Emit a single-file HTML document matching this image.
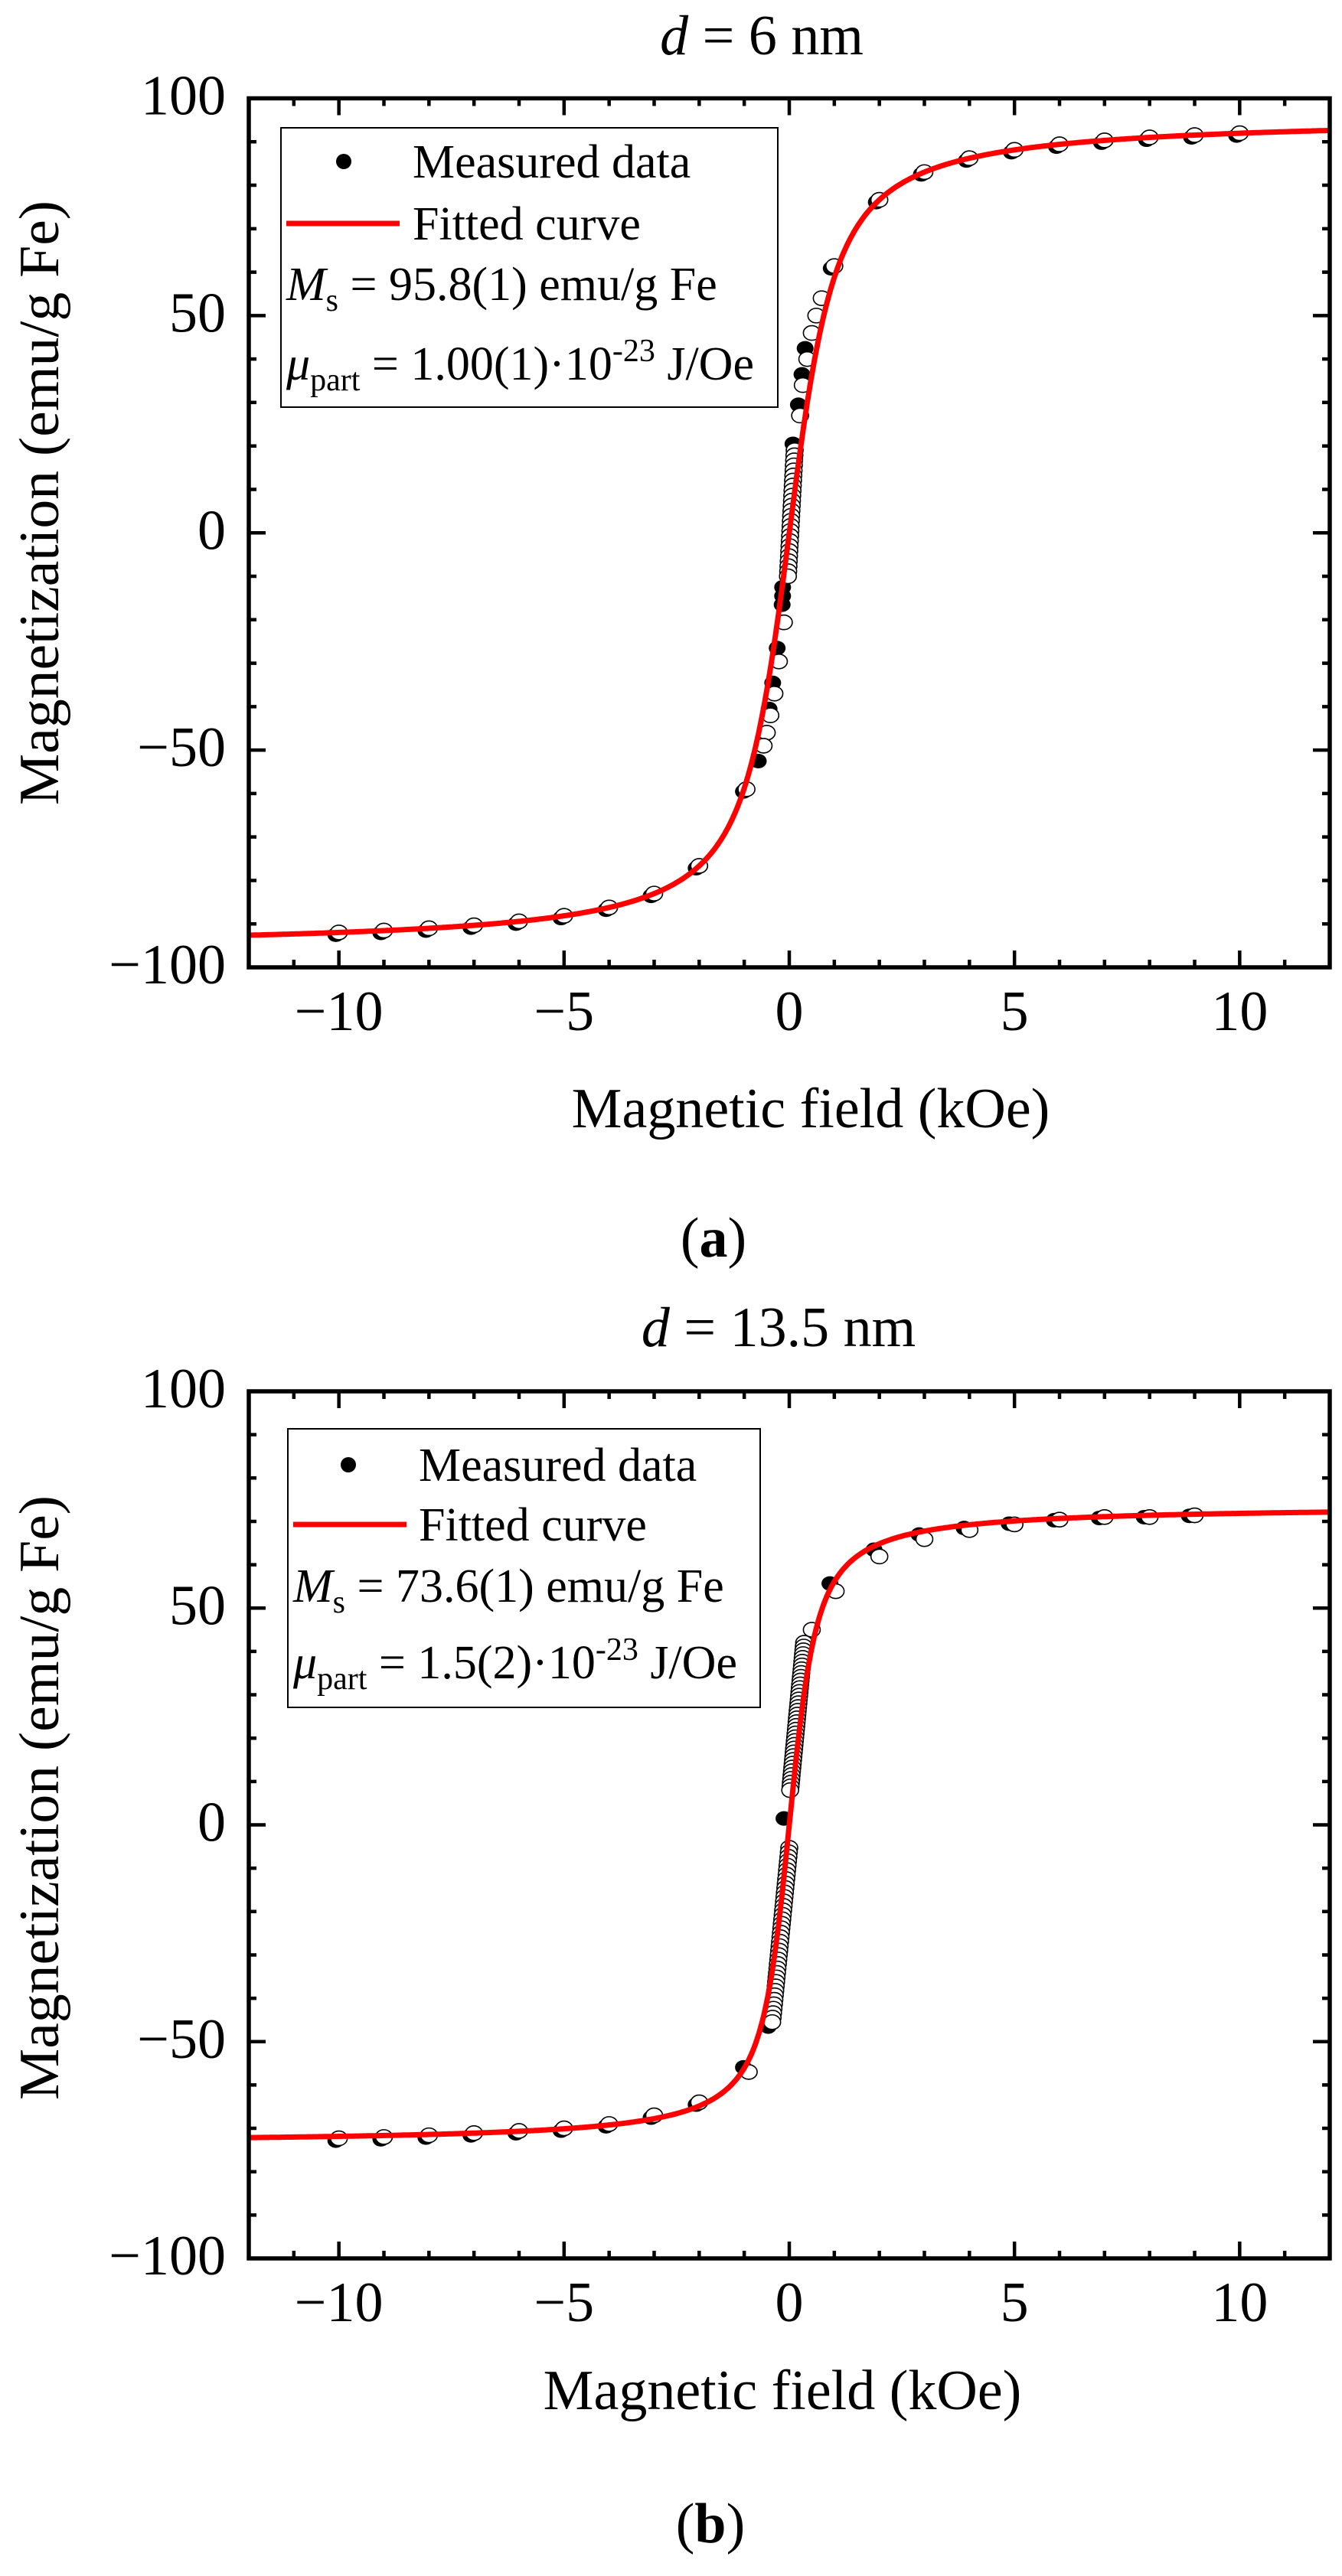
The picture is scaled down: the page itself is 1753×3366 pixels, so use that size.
<!DOCTYPE html>
<html><head><meta charset="utf-8"><style>
html,body{margin:0;padding:0;background:#fff;}
svg{display:block;}
text{font-family:"Liberation Serif","DejaVu Serif",serif;fill:#000;}
</style></head><body>
<svg id="s" width="1753" height="3366" viewBox="0 0 1753 3366" xmlns="http://www.w3.org/2000/svg">
<rect x="0" y="0" width="1753" height="3366" fill="#fff"/>
<text x="995" y="71" font-size="74" text-anchor="middle"><tspan font-style="italic">d</tspan> = 6 nm</text>
<text x="1059" y="1473" font-size="74" text-anchor="middle">Magnetic field (kOe)</text>
<text x="932" y="1642" font-size="74" text-anchor="middle">(<tspan font-weight="bold">a</tspan>)</text>
<text transform="translate(76,657) rotate(-90)" font-size="74" text-anchor="middle" textLength="790" lengthAdjust="spacingAndGlyphs">Magnetization (emu/g Fe)</text>

<text x="1017" y="1759" font-size="74" text-anchor="middle"><tspan font-style="italic">d</tspan> = 13.5 nm</text>
<text x="1022" y="3148" font-size="74" text-anchor="middle">Magnetic field (kOe)</text>
<text x="928" y="3322" font-size="74" text-anchor="middle">(<tspan font-weight="bold">b</tspan>)</text>
<text transform="translate(76,2349) rotate(-90)" font-size="74" text-anchor="middle" textLength="790" lengthAdjust="spacingAndGlyphs">Magnetization (emu/g Fe)</text>
<g id="g1"></g><g id="g2"></g>
</svg>
<script>
var NS="http://www.w3.org/2000/svg";
function el(p,t,a){var e=document.createElementNS(NS,t);for(var k in a)e.setAttribute(k,a[k]);p.appendChild(e);return e;}
function Lg(x){if(Math.abs(x)<1e-4)return x/3;return 1/Math.tanh(x)-1/x;}
function plot(gid,T,B,Ms,a,pts,cluster,leg){
 var g=document.getElementById(gid);var L=325,R=1737;
 function X(h){return L+(h+12)*(R-L)/24;} function Y(m){return T+(100-m)*(B-T)/200;}
 // markers
 var all=[];
 pts.forEach(function(p){all.push(p);});
 cluster.forEach(function(c){var n=c[4];for(var i=0;i<n;i++){var t=i/(n-1);all.push([c[0]+(c[2]-c[0])*t,c[1]+(c[3]-c[1])*t,c[5]]);}});
 all.forEach(function(p){ if(p[2]!==0) el(g,'ellipse',{cx:X(p[0])-4,cy:Y(p[1])+3,rx:11,ry:9.5,fill:'#000'});});
 all.forEach(function(p){ if(p[2]!==2) el(g,'ellipse',{cx:X(p[0]),cy:Y(p[1]),rx:11,ry:9.5,fill:'#fff',stroke:'#000','stroke-width':1.6});});
 // curve
 var d='';for(var i=0;i<=600;i++){var h=-12+24*i/600;d+=(i?'L':'M')+X(h).toFixed(1)+','+Y(Ms*Lg(a*h)).toFixed(1);}
 el(g,'path',{d:d,fill:'none',stroke:'#ff0000','stroke-width':7,'stroke-linejoin':'round'});
 // ticks
 var tk='';
 for(var h=-12;h<=12;h++){var x=X(h);var big=(h%5===0);var l=big?22:10;tk+='M'+x+','+B+'v'+(-l)+'M'+x+','+T+'v'+l;}
 for(var m=-100;m<=100;m+=10){var y=Y(m);var big=(m%50===0);var l=big?22:10;tk+='M'+L+','+y+'h'+l+'M'+R+','+y+'h'+(-l);}
 el(g,'path',{d:tk,stroke:'#000','stroke-width':4.5,fill:'none'});
 el(g,'rect',{x:L,y:T,width:R-L,height:B-T,fill:'none',stroke:'#000','stroke-width':5.5});
 [-10,-5,0,5,10].forEach(function(h){var t=el(g,'text',{x:X(h),y:B+82,'font-size':74,'text-anchor':'middle'});t.textContent=(h<0?'\u2212':'')+Math.abs(h);});
 [-100,-50,0,50,100].forEach(function(m){var t=el(g,'text',{x:295,y:Y(m)+21,'font-size':74,'text-anchor':'end'});t.textContent=(m<0?'\u2212':'')+Math.abs(m);});
 // legend
 el(g,'rect',{x:leg.x,y:leg.y,width:leg.w,height:leg.h,fill:'#fff',stroke:'#000','stroke-width':2});
 el(g,'circle',{cx:leg.mx,cy:leg.b1-21,r:10,fill:'#000'});
 el(g,'line',{x1:leg.x+7,x2:leg.x+155,y1:leg.b2-21,y2:leg.b2-21,stroke:'#ff0000','stroke-width':7});
 var t=el(g,'text',{x:leg.tx,y:leg.b1,'font-size':62});t.textContent='Measured data';
 t=el(g,'text',{x:leg.tx,y:leg.b2,'font-size':62});t.textContent='Fitted curve';
 t=el(g,'text',{x:leg.x+7,y:leg.b3,'font-size':62});
 t.innerHTML='<tspan font-style="italic">M</tspan><tspan font-size="42" dy="14">s</tspan><tspan dy="-14"> = '+leg.ms+' emu/g Fe</tspan>';
 t=el(g,'text',{x:leg.x+7,y:leg.b4,'font-size':62});
 t.innerHTML='<tspan font-style="italic">\u03bc</tspan><tspan font-size="42" dy="14">part</tspan><tspan dy="-14"> = '+leg.mu+'\u00b710</tspan><tspan font-size="42" dy="-24">-23</tspan><tspan dy="24"> J/Oe</tspan>';
}
// top plot
var p1=[];
for(var h=-10;h<=10;h++){ if(Math.abs(h)<=1) continue; p1.push([h,95.8*Lg(2.5*h),1]); }
p1=p1.concat([[1.0,61.4,1],[0.72,54,0],[0.6,50,0],[0.5,46,0],[0.42,43,2],[0.4,40,0],[0.35,37,2],[0.3,34,0],[0.27,30,2],[0.24,27,0],[0.15,21,2],
[-0.08,-12,2],[-0.08,-14,2],[-0.09,-16,2],[-0.12,-20.6,0],[-0.2,-26,2],[-0.23,-29.6,0],[-0.3,-34,2],[-0.33,-37,0],[-0.38,-40,2],[-0.42,-42,0],[-0.5,-46,0],[-0.57,-49,0],[-0.62,-52,2],[-0.95,-59,1]]);
plot('g1',128.5,1264,95.8,2.5,p1,[[0.12,19,-0.03,-10,26,0]],
 {x:367,y:167,w:649,h:365,mx:449,tx:539,b1:232,b2:313,b3:392,b4:496,ms:'95.8(1)',mu:'1.00(1)'});
// bottom plot
var p2=[];
var neg={'-10':-72.3,'-9':-72,'-8':-71.6,'-7':-71.1,'-6':-70.6,'-5':-70,'-4':-69,'-3':-67,'-2':-64};
for(var h=-10;h<=-2;h++) p2.push([h,neg[h],1]);
var pos={2:61.9,3:65.9,4:68,5:69.3,6:70.4,7:71,8:71,9:71.4};
for(var h=2;h<=9;h++) p2.push([h,pos[h],0]);
[[2,64],[3,67.5],[4,69],[5,70],[6,70.8],[7,71.3],[8,71.5],[9,71.8]].forEach(function(q){p2.push([q[0]-0.05,q[1],2]);});
p2=p2.concat([[0.97,56.2,2],[1.03,53.9,0],[0.5,45,0],[-0.05,2,2],[-0.95,-55.4,2],[-0.9,-57,0],[-0.4,-46,2]]);
plot('g2',1818,2951,73.6,4.2,p2,[[0.33,42,0.02,8,40,0],[0.0,-5.3,-0.38,-45.5,40,0]],
 {x:376,y:1867,w:617,h:364,mx:455,tx:547,b1:1935,b2:2013,b3:2093,b4:2193,ms:'73.6(1)',mu:'1.5(2)'});
</script>
</body></html>
